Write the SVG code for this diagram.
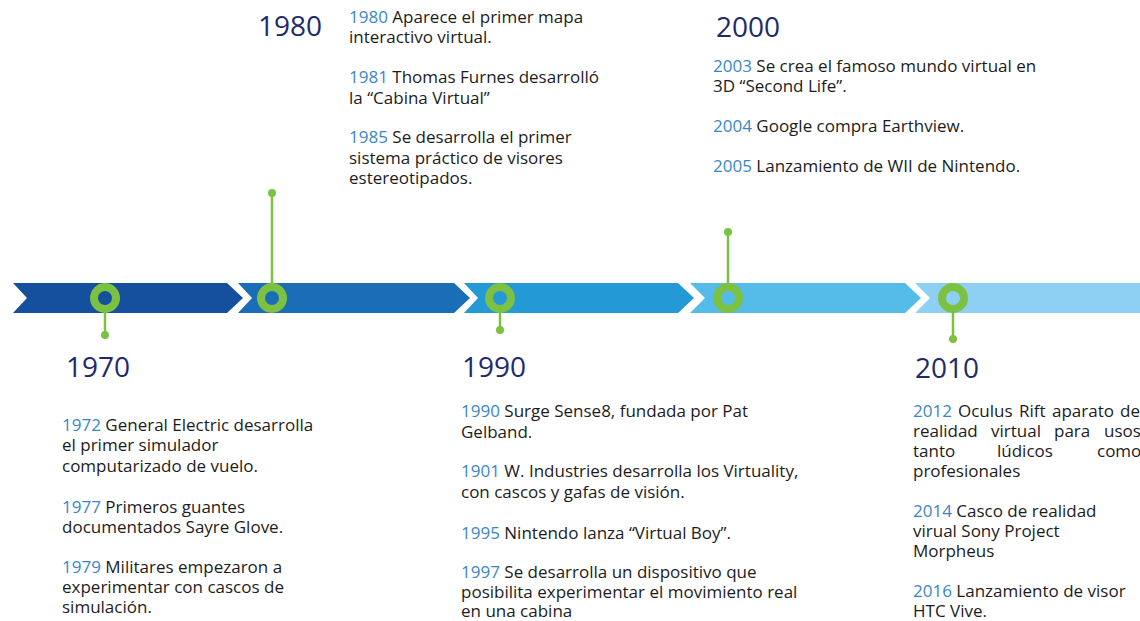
<svg xmlns="http://www.w3.org/2000/svg" width="1140" height="621" viewBox="0 0 1140 621">
<style>
text{font-family:"Open Sans","Noto Sans","DejaVu Sans",sans-serif;}
.h{font-size:28px;fill:#1f2a6b;}
.b{font-size:17px;fill:#1c1c1c;}
.y{fill:#3b87c6;}
.ring{fill:none;stroke:#7cc142;stroke-width:8;}
.stem{stroke:#7cc142;stroke-width:2.5;}
.dot{fill:#7cc142;}
</style>
<rect width="1140" height="621" fill="#ffffff"/>
<g id="timeline">
<polygon points="13,283 227,283 243,298 227,313 13,313 27,298" fill="#15509f"/>
<polygon points="238,283 454,283 470,298 454,313 238,313 252,298" fill="#1a6eb8"/>
<polygon points="464,283 678,283 694,298 678,313 464,313 478,298" fill="#2399d6"/>
<polygon points="690,283 905,283 921,298 905,313 690,313 705,298" fill="#55bce9"/>
<polygon points="915,283 1150,283 1150,313 915,313 930,298" fill="#8dd0f3"/>
</g>
<g id="connectors">
<line class="stem" x1="105" y1="309" x2="105" y2="335"/>
<circle class="dot" cx="105" cy="335" r="4"/>
<line class="stem" x1="272" y1="287" x2="272" y2="193"/>
<circle class="dot" cx="272" cy="193" r="4"/>
<line class="stem" x1="500" y1="309" x2="500" y2="330"/>
<circle class="dot" cx="500" cy="330" r="4"/>
<line class="stem" x1="728" y1="287" x2="728" y2="232"/>
<circle class="dot" cx="728" cy="232" r="4"/>
<line class="stem" x1="953" y1="309" x2="953" y2="339"/>
<circle class="dot" cx="953" cy="339" r="4"/>
</g>
<g id="rings">
<circle class="ring" cx="105" cy="298" r="11"/>
<circle class="ring" cx="272" cy="298" r="11"/>
<circle class="ring" cx="500" cy="298" r="11"/>
<circle class="ring" cx="728" cy="298" r="11"/>
<circle class="ring" cx="953" cy="298" r="11"/>
</g>
<g id="node-1970">
<text class="h" x="66" y="377">1970</text>
<text class="b" x="62" y="431"><tspan class="y">1972</tspan> General Electric desarrolla</text>
<text class="b" x="62" y="451">el primer simulador</text>
<text class="b" x="62" y="472">computarizado de vuelo.</text>
<text class="b" x="62" y="513"><tspan class="y">1977</tspan> Primeros guantes</text>
<text class="b" x="62" y="533">documentados Sayre Glove.</text>
<text class="b" x="62" y="573"><tspan class="y">1979</tspan> Militares empezaron a</text>
<text class="b" x="62" y="593">experimentar con cascos de</text>
<text class="b" x="62" y="613">simulación.</text>
</g>
<g id="node-1980">
<text class="h" x="258" y="36">1980</text>
<text class="b" x="349" y="23"><tspan class="y">1980</tspan> Aparece el primer mapa</text>
<text class="b" x="349" y="43">interactivo virtual.</text>
<text class="b" x="349" y="83"><tspan class="y">1981</tspan> Thomas Furnes desarrolló</text>
<text class="b" x="349" y="104">la “Cabina Virtual”</text>
<text class="b" x="349" y="143"><tspan class="y">1985</tspan> Se desarrolla el primer</text>
<text class="b" x="349" y="164">sistema práctico de visores</text>
<text class="b" x="349" y="184">estereotipados.</text>
</g>
<g id="node-1990">
<text class="h" x="462" y="377">1990</text>
<text class="b" x="461" y="417"><tspan class="y">1990</tspan> Surge Sense8, fundada por Pat</text>
<text class="b" x="461" y="438">Gelband.</text>
<text class="b" x="461" y="477"><tspan class="y">1901</tspan> W. Industries desarrolla los Virtuality,</text>
<text class="b" x="461" y="498">con cascos y gafas de visión.</text>
<text class="b" x="461" y="539"><tspan class="y">1995</tspan> Nintendo lanza “Virtual Boy”.</text>
<text class="b" x="461" y="578"><tspan class="y">1997</tspan> Se desarrolla un dispositivo que</text>
<text class="b" x="461" y="598">posibilita experimentar el movimiento real</text>
<text class="b" x="461" y="617">en una cabina</text>
</g>
<g id="node-2000">
<text class="h" x="716" y="37">2000</text>
<text class="b" x="713" y="72"><tspan class="y">2003</tspan> Se crea el famoso mundo virtual en</text>
<text class="b" x="713" y="92">3D “Second Life”.</text>
<text class="b" x="713" y="132"><tspan class="y">2004</tspan> Google compra Earthview.</text>
<text class="b" x="713" y="172"><tspan class="y">2005</tspan> Lanzamiento de WII de Nintendo.</text>
</g>
<g id="node-2010">
<text class="h" x="915" y="378">2010</text>
<text class="b" y="417"><tspan class="y" x="913">2012</tspan><tspan x="958">Oculus</tspan><tspan x="1019">Rift</tspan><tspan x="1052">aparato</tspan><tspan x="1120">de</tspan></text>
<text class="b" y="437"><tspan x="913">realidad</tspan><tspan x="991">virtual</tspan><tspan x="1054">para</tspan><tspan x="1104">usos</tspan></text>
<text class="b" y="457"><tspan x="913">tanto</tspan><tspan x="997">lúdicos</tspan><tspan x="1097">como</tspan></text>
<text class="b" x="913" y="477">profesionales</text>
<text class="b" x="913" y="517"><tspan class="y">2014</tspan> Casco de realidad</text>
<text class="b" x="913" y="537">virual Sony Project</text>
<text class="b" x="913" y="557">Morpheus</text>
<text class="b" x="913" y="597"><tspan class="y">2016</tspan> Lanzamiento de visor</text>
<text class="b" x="913" y="617">HTC Vive.</text>
</g>
</svg>
